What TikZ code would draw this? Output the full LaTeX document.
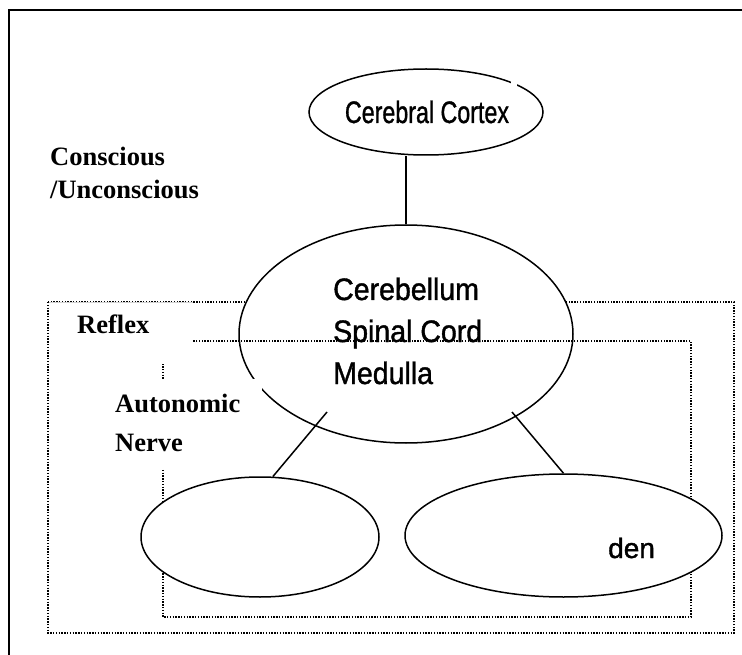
\documentclass[tikz,border=0pt]{standalone}
\usepackage{fontspec}
\setmainfont{Liberation Serif}
\newfontfamily\heavysans{Liberation Sans}[FakeBold=1.3]
\usetikzlibrary{shapes.geometric}
\begin{document}
\begin{tikzpicture}[x=1pt,y=-1pt,
  oval/.style={draw=black, line width=1.5pt, fill=white, ellipse, inner sep=0pt},
  dotline/.style={line width=1.5pt, dash pattern=on 1.4pt off 1.4pt},
  conn/.style={line width=1.5pt},
  mask/.style={fill=white, draw=none},
  lbl/.style={font=\bfseries\fontsize{26.5}{39}\selectfont, anchor=base west, inner sep=0pt},
  sanslbl/.style={font=\heavysans\fontsize{31}{42}\selectfont, anchor=base west, inner sep=0pt, xscale=0.92}
]
\useasboundingbox (0,0) rectangle (742,655);
% outer solid frame
\draw[line width=2pt] (9,655) -- (9,10) -- (742,10);
% outer dotted rectangle
\draw[dotline] (48,302) rectangle (734,633);
% middle ellipse
\node[oval, minimum width=334pt, minimum height=218pt] (mid) at (406,334) {};
% inner dotted rectangle
\draw[dotline] (163,341) rectangle (691,617);
% white text boxes
\fill[mask] (50,303.5) rectangle (192.5,364);
\fill[mask] (108,379) rectangle (262,468);
\draw[gray!35, line width=0.8pt] (49,302) -- (192.5,302);
% lower ellipses
\node[oval, minimum width=238pt, minimum height=120pt] (left) at (260,537) {};
\node[oval, minimum width=317pt, minimum height=123pt] (right) at (563.5,535.5) {};
% top ellipse
\node[oval, minimum width=234pt, minimum height=86pt] (cortex) at (426,112) {};
\fill[mask] (511,81) rectangle (517,89);
% connectors
\coordinate (ls) at (327,412);
\coordinate (rs) at (512,412);
\draw[conn] (mid.north) -- (mid.north |- cortex.south);
\draw[conn] (ls) -- (left.78);
\draw[conn] (rs) -- (right.north);
% texts
\node[font=\heavysans\fontsize{31}{36}\selectfont, anchor=base, inner sep=0pt, xscale=0.75] (tcortex) at (427,123) {Cerebral Cortex};
\node[lbl] (tcon) at (50,166) {Conscious};
\node[lbl] (tuncon) at (50,199) {/Unconscious};
\node[lbl] (treflex) at (77,334) {Reflex};
\node[lbl] (tauto) at (115,412) {Autonomic};
\node[lbl] (tnerve) at (115,451) {Nerve};
\node[sanslbl] (tcb) at (333,300) {Cerebellum};
\node[sanslbl] (tsc) at (333,342) {Spinal Cord};
\node[sanslbl] (tmed) at (333,384) {Medulla};
\node[font=\heavysans\fontsize{28}{32}\selectfont, anchor=base west, inner sep=0pt] (tden) at (608,558) {den};
\end{tikzpicture}
\end{document}
